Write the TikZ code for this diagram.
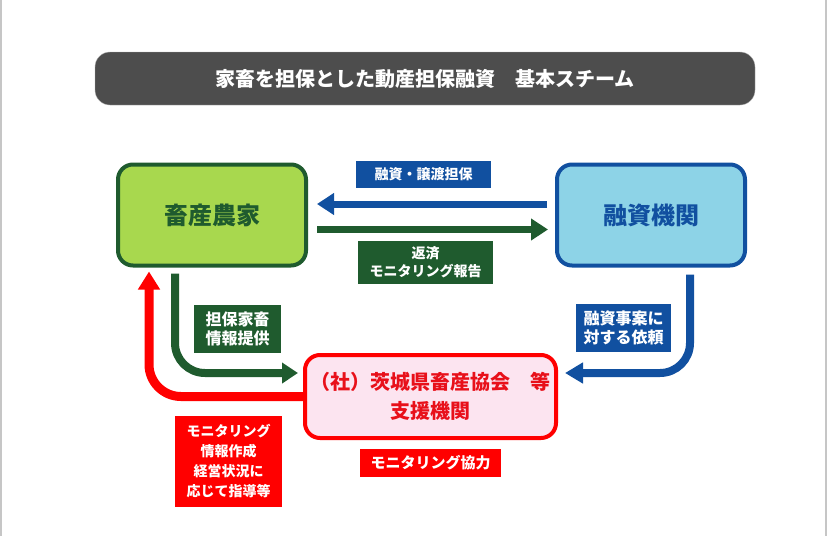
\documentclass[tikz,border=0pt]{standalone}
\usepackage{fontspec}
\setmainfont{Noto Sans CJK JP}
\usepackage{tikz}
\usetikzlibrary{arrows.meta}
\usepackage{xcolor}
\definecolor{titlegray}{HTML}{4D4D4D}
\definecolor{farmline}{HTML}{1F5B2E}
\definecolor{farmfill}{HTML}{A8D84E}
\definecolor{bankline}{HTML}{1150A0}
\definecolor{bankfill}{HTML}{8DD3E7}
\definecolor{assocred}{HTML}{FF0000}
\definecolor{assocfill}{HTML}{FCE4F0}
\definecolor{assoctext}{HTML}{E8101A}

\begin{document}
\begin{tikzpicture}[x=1pt,y=-1pt,>={Triangle[width=21pt,length=17pt]},
  party/.style={rounded corners=15pt,line width=4pt,minimum width=188pt,minimum height=101pt,inner sep=0pt,font=\bfseries\fontsize{24}{28}\selectfont},
  tag/.style={text=white,align=center,inner sep=0pt,font=\bfseries\fontsize{14}{18}\selectfont},
  link/.style={->,line width=8pt}]
\useasboundingbox (0,0) rectangle (827,536);
\draw[gray!45,line width=2pt] (1,0) -- (1,536) (826,0) -- (826,536);
\node[fill=titlegray,draw=gray!60,rounded corners=15pt,minimum width=660pt,minimum height=53pt,text=white,font=\bfseries\fontsize{20}{24}\selectfont] (title) at (425,78.5) {家畜を担保とした動産担保融資　基本スチーム};
\node[party,draw=farmline,fill=farmfill,text=farmline] (farm) at (212,215) {畜産農家};
\node[party,draw=bankline,fill=bankfill,text=bankline] (bank) at (651,215) {融資機関};
\node[rounded corners=15pt,line width=4pt,draw=assocred,fill=assocfill,text=assoctext,minimum width=251pt,minimum height=83pt,align=center,font=\bfseries\fontsize{20}{29}\selectfont] (assoc) at (430.5,396.5) {（社）茨城県畜産協会　等\\支援機関};
% labels
\node[tag,fill=bankline,minimum width=135pt,minimum height=27pt] (loan) at (423.5,174.5) {融資・譲渡担保};
\node[tag,fill=farmline,minimum width=135pt,minimum height=43pt] (repay) at (425.5,262.5) {返済\\モニタリング報告};
\node[tag,fill=farmline,minimum width=87pt,minimum height=48pt,font=\bfseries\fontsize{16}{18.5}\selectfont] (info) at (237.5,329) {担保家畜\\情報提供};
\node[tag,fill=bankline,minimum width=95pt,minimum height=48pt,font=\bfseries\fontsize{16}{18.5}\selectfont] (request) at (623.5,328) {融資事案に\\対する依頼};
\node[tag,fill=assocred,minimum width=141pt,minimum height=28pt,font=\bfseries\fontsize{15}{18}\selectfont] (coop) at (430.5,463) {モニタリング協力};
\node[tag,fill=assocred,minimum width=107pt,minimum height=91pt,font=\bfseries\fontsize{14}{20}\selectfont] (guide) at (228.5,461.5) {モニタリング\\情報作成\\経営状況に\\応じて指導等};
% arrows
\draw[link,bankline,line width=7pt] ([xshift=-8pt,yshift=11pt]bank.west) -- ([xshift=9pt,yshift=11pt]farm.east);
\draw[link,farmline,line width=7pt] ([xshift=9pt,yshift=-14.5pt]farm.east) -- ([xshift=-7pt,yshift=-14.5pt]bank.west);
\draw[link,farmline,rounded corners=30pt,>={Triangle[width=20pt,length=16pt]}] ([xshift=-37pt,yshift=-6pt]farm.south) |- ([xshift=-5pt,yshift=23.5pt]assoc.west);
\draw[link,bankline,rounded corners=30pt,>={Triangle[width=20pt,length=18pt]}] ([xshift=39pt,yshift=-7pt]bank.south) |- ([xshift=7pt,yshift=23.5pt]assoc.east);
\draw[link,assocred,line width=9pt,rounded corners=32pt,>={Triangle[width=21pt,length=18pt]}] (assoc.west) -| ([xshift=-63pt,yshift=-4pt]farm.south);
\end{tikzpicture}
\end{document}
